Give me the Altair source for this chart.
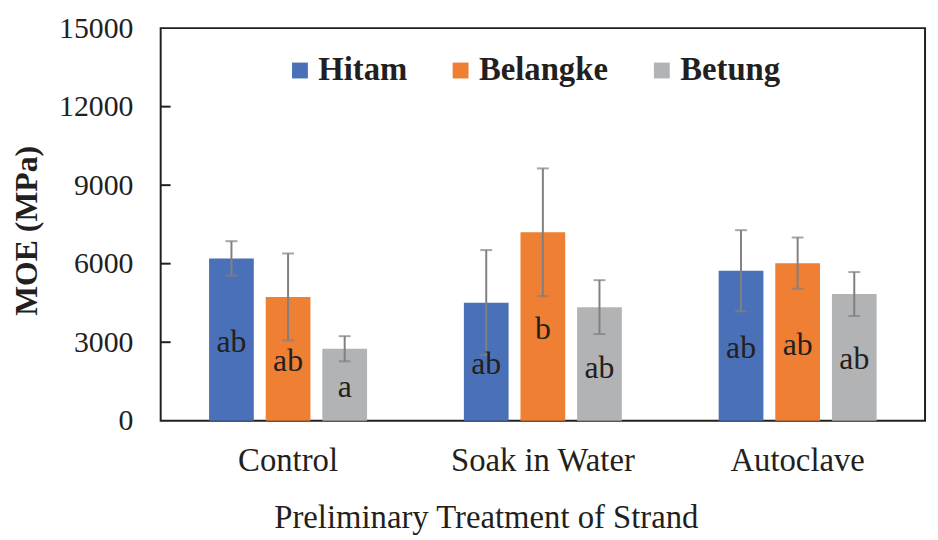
import altair as alt
import pandas as pd

treatments = ["Control", "Soak in Water", "Autoclave"]
species = ["Hitam", "Belangke", "Betung"]
colors = ["#4A71B7", "#EE7F33", "#B2B3B5"]

moe_hitam = [6200, 4510, 5730]
moe_belangke = [4730, 7200, 6020]
moe_betung = [2750, 4340, 4840]

err_hitam = [660, 2010, 1550]
err_belangke = [1660, 2440, 980]
err_betung = [480, 1030, 840]

letters_hitam = ["ab", "ab", "ab"]
letters_belangke = ["ab", "b", "ab"]
letters_betung = ["a", "ab", "ab"]

# vertical position (MPa) of the significance letters' baseline
label_y_hitam = [2640, 1800, 2390]
label_y_belangke = [1900, 3120, 2530]
label_y_betung = [910, 1650, 1980]

y_ticks = [0, 3000, 6000, 9000, 12000, 15000]
inner_ticks = [3000, 6000, 9000, 12000]

rows = []
for sp, moe, err, let, ly in [
    ("Hitam", moe_hitam, err_hitam, letters_hitam, label_y_hitam),
    ("Belangke", moe_belangke, err_belangke, letters_belangke, label_y_belangke),
    ("Betung", moe_betung, err_betung, letters_betung, label_y_betung),
]:
    for i, t in enumerate(treatments):
        rows.append({
            "treatment": t, "species": sp, "moe": moe[i],
            "lo": moe[i] - err[i], "hi": moe[i] + err[i],
            "letter": let[i], "label_y": ly[i],
        })
df = pd.DataFrame(rows)
ticks_df = pd.DataFrame({"v": inner_ticks})

FONT = "Liberation Serif"
TXT = "#231F20"

x_enc = alt.X(
    "treatment:N", sort=treatments,
    scale=alt.Scale(paddingInner=0.38, paddingOuter=0.19),
    axis=alt.Axis(
        ticks=False, domain=False, grid=False, labelAngle=0,
        labelFont=FONT, labelFontSize=33, labelColor=TXT, labelLimit=500,
        labelPadding=50, labelBaseline="alphabetic",
        title="Preliminary Treatment of Strand", titleFont=FONT,
        titleFontSize=33, titleFontWeight="normal", titleColor=TXT,
        titleX=328, titleY=108, titleAlign="center", titleBaseline="alphabetic",
        titleLimit=800,
    ),
)
xo_enc = alt.XOffset("species:N", sort=species,
                     scale=alt.Scale(paddingInner=0.21, paddingOuter=0))
y_scale = alt.Scale(domain=[0, 15000], nice=False)

base = alt.Chart(df)

bars = base.mark_bar().encode(
    x=x_enc,
    xOffset=xo_enc,
    y=alt.Y(
        "moe:Q", scale=y_scale,
        axis=alt.Axis(
            values=y_ticks, format="d", ticks=False, domain=False, grid=False,
            labelFont=FONT, labelFontSize=30, labelColor=TXT, labelPadding=28,
            title="MOE (MPa)", titleFont=FONT, titleFontSize=32,
            titleFontWeight="bold", titleColor=TXT,
            titleX=-135, titleY=204, titleAngle=270,
            titleAlign="center", titleBaseline="middle",
        ),
    ),
    color=alt.Color(
        "species:N", sort=species,
        scale=alt.Scale(domain=species, range=colors),
        legend=alt.Legend(
            orient="none", legendX=124, legendY=26, direction="horizontal",
            title=None, labelFont=FONT, labelFontWeight="bold",
            labelFontSize=33, labelColor=TXT, symbolType="square",
            symbolSize=256, symbolStrokeWidth=0, labelOffset=2,
            columnPadding=37, padding=0,
        ),
    ),
)

err_lines = base.mark_rule(color="#808080", strokeWidth=2).encode(
    x=x_enc, xOffset=xo_enc,
    y=alt.Y("lo:Q", scale=y_scale), y2="hi:Q",
)
cap_hi = base.mark_tick(color="#808080", thickness=2, size=12).encode(
    x=x_enc, xOffset=xo_enc, y=alt.Y("hi:Q", scale=y_scale),
)
cap_lo = base.mark_tick(color="#808080", thickness=2, size=12).encode(
    x=x_enc, xOffset=xo_enc, y=alt.Y("lo:Q", scale=y_scale),
)
letters = base.mark_text(
    font=FONT, fontSize=32, color=TXT, baseline="alphabetic", align="center"
).encode(
    x=x_enc, xOffset=xo_enc,
    y=alt.Y("label_y:Q", scale=y_scale),
    text="letter:N",
)
inward = alt.Chart(ticks_df).mark_rule(color=TXT, strokeWidth=2).encode(
    y=alt.Y("v:Q", scale=y_scale),
    x=alt.value(0), x2=alt.value(10),
)

chart = alt.layer(bars, err_lines, cap_hi, cap_lo, letters, inward).properties(
    width=771, height=396,
    autosize=alt.AutoSizeParams(type="none"),
    padding={"left": 154, "top": 18, "right": 5, "bottom": 116},
).configure(font=FONT).configure_view(stroke=TXT, strokeWidth=2)

chart.save("out.html", embed_options={"renderer": "svg", "actions": False})
